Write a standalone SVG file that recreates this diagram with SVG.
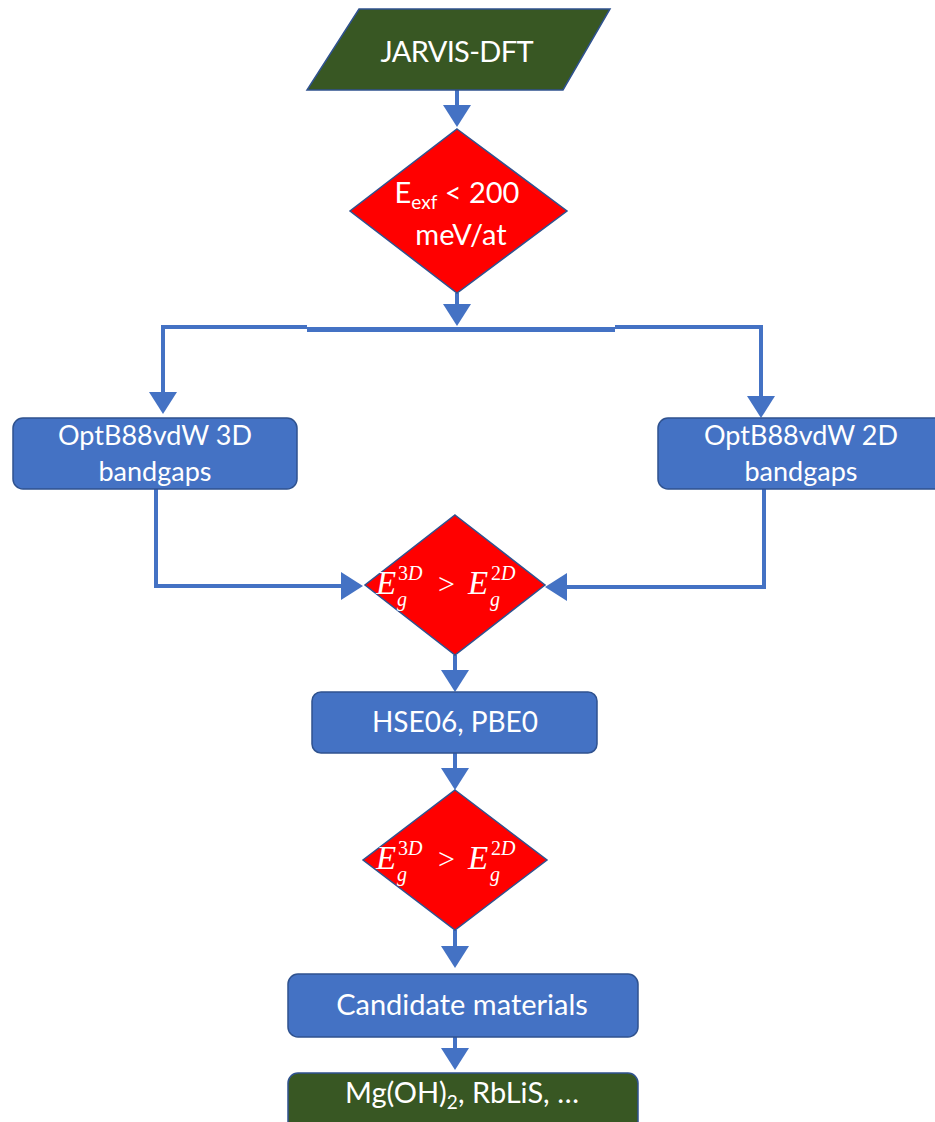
<svg xmlns="http://www.w3.org/2000/svg" width="935" height="1122" viewBox="0 0 935 1122">
<style>
.t{font-family:Lato,"Open Sans","Liberation Sans",sans-serif;fill:#fff;text-anchor:middle}
.m{font-family:"Liberation Serif","DejaVu Serif",serif;fill:#fff}
.box{fill:#4472C4;stroke:#2F528F;stroke-width:1.5}
.grn{fill:#385723;stroke:#2F528F;stroke-width:1.5}
.dia{fill:#FF0000;stroke:#2F528F;stroke-width:1.5}
.c{fill:none;stroke:#4472C4;stroke-width:4;marker-end:url(#ah)}
.cn{fill:none;stroke:#4472C4;stroke-width:4}
</style>
<defs>
<marker id="ah" markerUnits="userSpaceOnUse" viewBox="0 0 22 28" refX="16" refY="14" markerWidth="22" markerHeight="28" orient="auto">
<path d="M0,0 L22,14 L0,28 Z" fill="#4472C4"/>
</marker>
</defs>
<rect width="935" height="1122" fill="#fff"/>
<g id="connectors">
<path class="c" d="M457,90 V121"/>
<path class="c" d="M457,293 V320"/>
<path class="cn" d="M163,327 H307"/>
<path d="M307,329.5 H615" fill="none" stroke="#4472C4" stroke-width="5"/>
<path class="cn" d="M615,327 H763"/>
<path class="c" d="M163,325 V408"/>
<path class="c" d="M761,325 V412"/>
<path class="c" d="M156,489 V586 H357"/>
<path class="c" d="M764,489 V587 H551"/>
<path class="c" d="M455,655 V686"/>
<path class="c" d="M455,753 V784"/>
<path class="c" d="M455,930 V962"/>
<path class="c" d="M455,1037 V1064"/>
</g>
<g id="jarvis">
<polygon class="grn" points="359,9 610,9 563,90 307,90"/>
<text class="t" x="457" y="62" font-size="29" textLength="153">JARVIS-DFT</text>
</g>
<g id="exf">
<polygon class="dia" points="457,129 567,211 457,293 350,211"/>
<text class="t" x="457" y="203" font-size="29"><tspan>E</tspan><tspan font-size="19" dy="6">exf</tspan><tspan dy="-6"> &lt; 200</tspan></text>
<text class="t" x="461" y="245" font-size="29">meV/at</text>
</g>
<g id="opt3d">
<rect class="box" x="13" y="418" width="284" height="71" rx="10"/>
<text class="t" x="155" y="445" font-size="27">OptB88vdW 3D</text>
<text class="t" x="155" y="481" font-size="27">bandgaps</text>
</g>
<g id="opt2d">
<rect class="box" x="658" y="418" width="286" height="71" rx="10"/>
<text class="t" x="801" y="445" font-size="27">OptB88vdW 2D</text>
<text class="t" x="801" y="481" font-size="27">bandgaps</text>
</g>
<g id="cmp1">
<polygon class="dia" points="455,515 545,585 455,655 365,585"/>
<text class="m" y="594" font-size="33"><tspan x="376" font-style="italic">E</tspan><tspan x="398" y="580" font-size="20">3<tspan font-style="italic">D</tspan></tspan><tspan x="397" y="606" font-size="20" font-style="italic">g</tspan><tspan x="438" y="594" font-size="30">&gt;</tspan><tspan x="468" y="594" font-style="italic">E</tspan><tspan x="491" y="580" font-size="20">2<tspan font-style="italic">D</tspan></tspan><tspan x="490" y="606" font-size="20" font-style="italic">g</tspan></text>
</g>
<g id="hybrid">
<rect class="box" x="312" y="692" width="285" height="61" rx="9"/>
<text class="t" x="455" y="732" font-size="28">HSE06, PBE0</text>
</g>
<g id="cmp2">
<polygon class="dia" points="455,790 547,860 455,930 363,860"/>
<text class="m" y="869" font-size="33"><tspan x="376" font-style="italic">E</tspan><tspan x="398" y="855" font-size="20">3<tspan font-style="italic">D</tspan></tspan><tspan x="397" y="881" font-size="20" font-style="italic">g</tspan><tspan x="438" y="869" font-size="30">&gt;</tspan><tspan x="468" y="869" font-style="italic">E</tspan><tspan x="491" y="855" font-size="20">2<tspan font-style="italic">D</tspan></tspan><tspan x="490" y="881" font-size="20" font-style="italic">g</tspan></text>
</g>
<g id="candidates">
<rect class="box" x="288" y="974" width="350" height="63" rx="10"/>
<text class="t" x="462" y="1015" font-size="29">Candidate materials</text>
</g>
<g id="results">
<rect class="grn" x="288" y="1073" width="350" height="60" rx="10"/>
<text class="t" x="462" y="1103" font-size="29">Mg(OH)<tspan font-size="19" dy="6">2</tspan><tspan dy="-6">, RbLiS, …</tspan></text>
</g>
</svg>
